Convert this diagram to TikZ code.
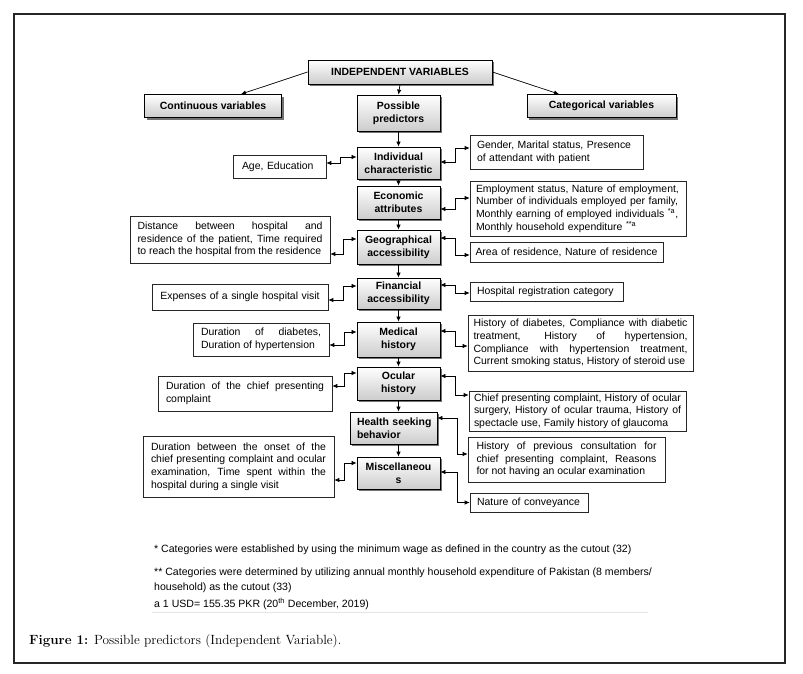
\documentclass[tikz,border=0pt]{standalone}
\usepackage{fontspec}
\newfontfamily\arialf{Liberation Sans}
\usetikzlibrary{arrows.meta,shadows}
\newcommand{\myside}{\arialf\fontsize{10.5}{12.7}\selectfont}
\newcommand{\mybold}{\arialf\bfseries\fontsize{10.5}{13}\selectfont}
\newcommand{\myfoot}{\arialf\fontsize{10.6}{15}\selectfont}
\newcommand{\mycap}{\fontsize{13.4}{15}\selectfont}
\tikzset{
  mainbox/.style={draw=black, line width=0.8bp, top color=white, bottom color=gray!40,
    drop shadow={shadow xshift=2.2bp, shadow yshift=-2.2bp, fill=black!55, opacity=1},
    font=\mybold, align=center, inner sep=0pt},
  sidebox/.style={draw=black!85, line width=0.6bp, fill=white, font=\myside, inner sep=0pt},
  conn/.style={line width=0.7bp, {Latex[length=5bp,width=4.5bp]}-{Latex[length=5bp,width=4.5bp]}},
  arr/.style={line width=0.7bp, -{Latex[length=5bp,width=4.5bp]}},
}
\begin{document}
\begin{tikzpicture}[x=1bp,y=-1bp]
\useasboundingbox (0,0) rectangle (803,674);
\draw[line width=1.5bp, black!85] (14,14) rectangle (785,663);

% top level
\node[mainbox, minimum width=184bp, minimum height=24bp] (iv) at (400,72) {INDEPENDENT VARIABLES};
\node[mainbox, minimum width=137bp, minimum height=23bp] (cont) at (213,106) {Continuous variables};
\node[mainbox, minimum width=83bp, minimum height=36bp] (pp) at (398.5,113) {Possible\\predictors};
\node[mainbox, minimum width=149bp, minimum height=23bp] (cat) at (601.5,106) {Categorical variables};

% center column
\node[mainbox, minimum width=83bp, minimum height=32bp] (ind) at (398.5,163) {Individual\\characteristic};
\node[mainbox, minimum width=83bp, minimum height=33bp] (eco) at (398.5,202.5) {Economic\\attributes};
\node[mainbox, minimum width=83bp, minimum height=34bp] (geo) at (398.5,247) {Geographical\\accessibility};
\node[mainbox, minimum width=83bp, minimum height=31bp] (fin) at (398.5,293.5) {Financial\\accessibility};
\node[mainbox, minimum width=83bp, minimum height=35bp] (med) at (398.5,339.5) {Medical\\history};
\node[mainbox, minimum width=83bp, minimum height=33bp] (ocu) at (398.5,383.5) {Ocular\\history};
\node[mainbox, minimum width=87bp, minimum height=32bp, align=left, text width=73bp] (hsb) at (393.5,428) {\mbox{Health seeking}\\behavior};
\node[mainbox, minimum width=83bp, minimum height=32bp] (misc) at (398.5,473) {Miscellaneou\\s};

% side boxes
\node[sidebox, minimum width=93bp, minimum height=23bp, align=left, text width=75bp] (age) at (279.5,166.5) {Age, Education};
\node[sidebox, minimum width=173bp, minimum height=34bp, align=left, text width=159bp] (gender) at (556.5,152) {Gender, Marital status, Presence\\of attendant with patient};
\node[sidebox, minimum width=216bp, minimum height=55bp, align=left, text width=204bp] (employ) at (578,208.5) {Employment status, Nature of employment,\\Number of individuals employed per family,\\Monthly earning of employed individuals \textsuperscript{*a},\\Monthly household expenditure \textsuperscript{**a}};
\node[sidebox, minimum width=200bp, minimum height=47bp, align=justify, text width=185bp] (dist) at (230,239.5) {Distance between hospital and\linebreak residence of the patient, Time required\linebreak to reach the hospital from the residence};
\node[sidebox, minimum width=193bp, minimum height=20bp, align=left, text width=182bp] (area) at (566.5,252) {Area of residence, Nature of residence};
\node[sidebox, minimum width=176bp, minimum height=26bp, align=center, text width=170bp] (exp) at (240,297) {Expenses of a single hospital visit};
\node[sidebox, minimum width=153bp, minimum height=19bp, align=left, text width=139bp] (hospreg) at (546.5,292) {Hospital registration category};
\node[sidebox, minimum width=136bp, minimum height=33bp, align=justify, text width=120bp] (durdiab) at (261,339.5) {Duration of diabetes,\linebreak Duration of hypertension};
\node[sidebox, minimum width=225bp, minimum height=56bp, align=justify, text width=214bp] (histdiab) at (580.5,343) {History of diabetes, Compliance with diabetic\linebreak treatment, History of hypertension,\linebreak Compliance with hypertension treatment,\linebreak Current smoking status, History of steroid use};
\node[sidebox, minimum width=174bp, minimum height=35bp, align=justify, text width=158bp] (durchief) at (245,393.5) {Duration of the chief presenting\linebreak complaint};
\node[sidebox, minimum width=217bp, minimum height=40bp, align=justify, text width=207bp] (chief) at (577.5,411) {Chief presenting complaint, History of ocular\linebreak surgery, History of ocular trauma, History of\linebreak spectacle use, Family history of glaucoma};
\node[sidebox, minimum width=197bp, minimum height=45bp, align=justify, text width=180bp] (prevcons) at (566.5,459.5) {History of previous consultation for\linebreak chief presenting complaint, Reasons\linebreak for not having an ocular examination};
\node[sidebox, minimum width=191bp, minimum height=61bp, align=justify, text width=175bp] (onset) at (238.5,466.5) {Duration between the onset of the\linebreak chief presenting complaint and ocular\linebreak examination, Time spent within the\linebreak hospital during a single visit};
\node[sidebox, minimum width=118bp, minimum height=19bp, align=left, text width=104bp] (nature) at (529,502.5) {Nature of conveyance};

% top arrows
\draw[arr] (iv.west) -- ([xshift=28bp]cont.north);
\draw[arr] (iv.east) -- ([xshift=-42.5bp]cat.north);
\draw[arr] (iv.south) -- (pp.north);

% vertical chain
\draw[arr] (pp.south) -- (ind.north);
\draw[arr] (ind.south) -- (eco.north);
\draw[arr] (eco.south) -- (geo.north);
\draw[arr] (geo.south) -- (fin.north);
\draw[arr] (fin.south) -- (med.north);
\draw[arr] (med.south) -- (ocu.north);
\draw[arr] (ocu.south) -- (ocu.south |- hsb.north);
\draw[arr] (misc.north |- hsb.south) -- (misc.north);

% left connectors
\draw[conn] ([yshift=3.5bp]age.east) -- ++(14,0) |- ([yshift=6bp]ind.west);
\draw[conn] ([yshift=-14.5bp]dist.east) -- ++(13,0) |- ([yshift=8bp]geo.west);
\draw[conn] ([yshift=-3bp]exp.east) -- ++(15,0) |- ([yshift=7.5bp]fin.west);
\draw[conn] ([yshift=-5.5bp]durdiab.east) -- ++(15,0) |- ([yshift=7.5bp]med.west);
\draw[conn] ([yshift=7.5bp]durchief.east) -- ++(12,0) |- ([yshift=10.5bp]ocu.west);
\draw[conn] ([yshift=-13.5bp]onset.east) -- ++(10,0) |- ([yshift=10bp]misc.west);

% right connectors
\draw[conn] ([yshift=1bp]ind.east) -- ++(15,0) |- ([yshift=4bp]gender.west);
\draw[conn] ([yshift=-6.5bp]eco.east) -- ++(15,0) |- ([yshift=10.5bp]employ.west);
\draw[conn] ([yshift=9bp]geo.east) -- ++(15,0) |- ([yshift=-3bp]area.west);
\draw[conn] ([yshift=8.5bp]fin.east) -- ++(15,0) |- ([yshift=-1bp]hospreg.west);
\draw[conn] ([yshift=8.5bp]med.east) -- ++(15,0) |- ([yshift=-3bp]histdiab.west);
\draw[conn] ([yshift=7.5bp]ocu.east) -- ++(15,0) |- ([yshift=16bp]chief.west);
\draw[conn] ([yshift=10bp]hsb.east) -- ++(20,0) |- ([yshift=5.5bp]prevcons.west);
\draw[conn] ([yshift=1bp]misc.east) -- ++(17,0) |- (nature.west);

% footnotes
\node[anchor=base west, font=\myfoot, inner sep=0pt] (f1) at (154,552) {* Categories were established by using the minimum wage as defined in the country as the cutout (32)};
\node[anchor=base west, font=\myfoot, inner sep=0pt, align=left] (f2) at (154,590) {** Categories were determined by utilizing annual monthly household expenditure of Pakistan (8 members/\\household) as the cutout (33)};
\node[anchor=base west, font=\myfoot, inner sep=0pt] (f3) at (154,607) {a 1 USD= 155.35 PKR (20\textsuperscript{th} December, 2019)};
\draw[gray!20, line width=1bp] (152,612) -- (648,612);
\node[anchor=base west, font=\mycap, inner sep=0pt] (cap) at (29,644) {\textbf{Figure 1:} Possible predictors (Independent Variable).};
\end{tikzpicture}
\end{document}
